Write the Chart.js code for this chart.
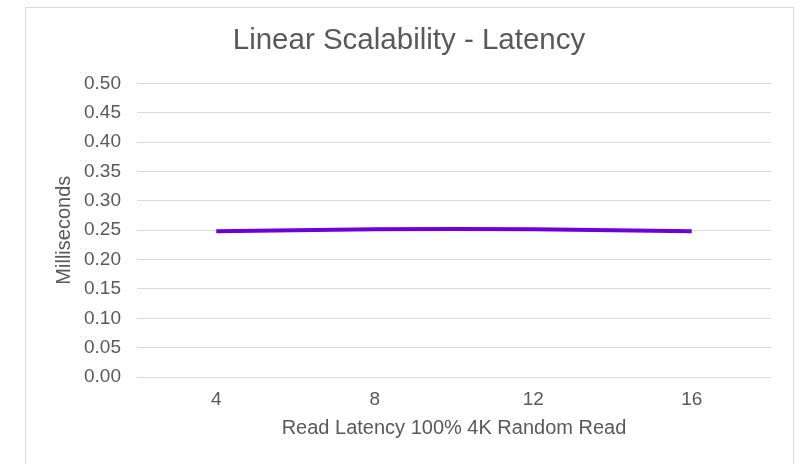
<!DOCTYPE html>
<html>
<head>
<meta charset="utf-8">
<script src="https://cdn.jsdelivr.net/npm/chart.js@4/dist/chart.umd.min.js"></script>
<style>
    body { margin: 0; background: #ffffff; }
    #marco {
        position: absolute;
        left: 25px;
        top: 7px;
        width: 767px;
        height: 470px;
        border: 1px solid #d9d9d9;
        border-bottom: none;
    }
    #grafica { position: absolute; left: 0; top: 0; }
</style>
</head>
<body>
<div id="marco"></div>
<canvas id="grafica" width="796" height="464"></canvas>
<script>
const hilos = ["4", "8", "12", "16"];
const latencia = [0.248, 0.2515, 0.2515, 0.248];
const marcasY = [0, 0.05, 0.1, 0.15, 0.2, 0.25, 0.3, 0.35, 0.4, 0.45, 0.5];

const gris = "#595959";
const fuente = "'Liberation Sans', Arial, sans-serif";

const ctx = document.getElementById("grafica");
const grafica = new Chart(ctx, {
    type: "line",
    data: {
        labels: hilos,
        datasets: [
            {
                label: "Latencia",
                data: latencia,
                borderColor: "#6f00dc",
                borderWidth: 4,
                tension: 0.4,
                pointRadius: 0,
                fill: false,
            },
        ],
    },
    options: {
        responsive: false,
        animation: false,
        layout: {
            padding: { left: 47, right: 25, top: 0, bottom: 20 },
        },
        plugins: {
            legend: { display: false },
            tooltip: { enabled: false },
            title: {
                display: true,
                text: "Linear Scalability - Latency",
                color: gris,
                font: { family: fuente, size: 29.5, weight: "normal" },
                padding: { top: 23, bottom: 25 },
            },
        },
        scales: {
            x: {
                type: "category",
                offset: true,
                grid: { display: false },
                border: { display: false },
                ticks: {
                    color: gris,
                    padding: 3,
                    font: { family: fuente, size: 19 },
                },
                title: {
                    display: true,
                    text: "Read Latency 100% 4K Random Read",
                    color: gris,
                    font: { family: fuente, size: 20 },
                    padding: { top: 0, bottom: 3.5 },
                },
                afterFit: (escala) => {
                    escala.height = 67;
                },
            },
            y: {
                min: 0,
                max: 0.5,
                afterBuildTicks: (escala) => {
                    escala.ticks = marcasY.map((v) => ({ value: v }));
                },
                grid: {
                    color: "#d9d9d9",
                    lineWidth: 1,
                    drawTicks: false,
                },
                border: { display: false },
                ticks: {
                    color: gris,
                    padding: 16,
                    font: { family: fuente, size: 19 },
                    callback: (v) => Number(v).toFixed(2),
                },
                title: {
                    display: true,
                    text: "Milliseconds",
                    color: gris,
                    font: { family: fuente, size: 20 },
                    padding: { top: 5.5, bottom: 0 },
                },
                afterFit: (escala) => {
                    escala.width = 90;
                },
            },
        },
    },
});
</script>
</body>
</html>
